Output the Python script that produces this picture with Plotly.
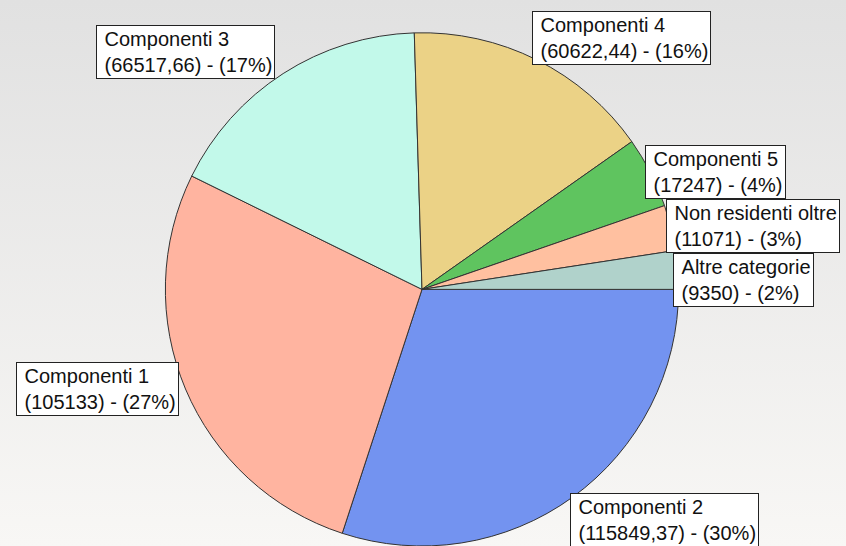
import plotly.graph_objects as go
import base64

labels = ["Componenti 2", "Componenti 1", "Componenti 3", "Componenti 4",
          "Componenti 5", "Non residenti oltre", "Altre categorie"]
values = [115849.37, 105133, 66517.66, 60622.44, 17247, 11071, 9350]
value_text = ["115849,37", "105133", "66517,66", "60622,44", "17247", "11071", "9350"]
colors = ["#7393f0", "#ffb4a0", "#c2f9ea", "#ebd286", "#5fc45f", "#ffc0a0", "#b0d2cb"]

# label box positions (paper coords, top-left corner)
label_pos = [(0.674, 0.097), (0.019, 0.337), (0.114, 0.954), (0.629, 0.980),
             (0.762, 0.734), (0.787, 0.635), (0.795, 0.537)]

total = sum(values)

fig = go.Figure()
fig.add_trace(go.Pie(
    labels=labels, values=values, sort=False, direction="clockwise", rotation=90,
    marker=dict(colors=colors, line=dict(color="#333333", width=1)),
    textinfo="none", hoverinfo="label+value+percent",
    domain=dict(x=[0.195, 0.8026], y=[0.0, 0.94]),
    showlegend=False,
))

annotations = []
for lab, vt, v, (px, py) in zip(labels, value_text, values, label_pos):
    pct = round(v / total * 100)
    annotations.append(dict(
        x=px, y=py, xref="paper", yref="paper", xanchor="left", yanchor="top",
        text=f"&nbsp;{lab}<br>&nbsp;({vt}) - ({pct}%)", showarrow=False, align="left",
        font=dict(family="Liberation Sans, Arial, sans-serif", size=20, color="#111111"),
        bgcolor="#ffffff", bordercolor="#222222", borderwidth=1, borderpad=2,
    ))

svg = ('<svg xmlns="http://www.w3.org/2000/svg" width="846" height="546">'
       '<defs><linearGradient id="g" x1="0" y1="0" x2="0" y2="1">'
       '<stop offset="0" stop-color="#e1e1e1"/><stop offset="1" stop-color="#f8f7f5"/>'
       '</linearGradient></defs><rect width="846" height="546" fill="url(#g)"/></svg>')
src = "data:image/svg+xml;base64," + base64.b64encode(svg.encode()).decode()

fig.update_layout(
    width=846, height=546,
    margin=dict(l=0, r=0, t=0, b=0),
    paper_bgcolor="#eeeeee", plot_bgcolor="rgba(0,0,0,0)",
    annotations=annotations,
    images=[dict(source=src, xref="paper", yref="paper", x=0, y=1, sizex=1, sizey=1,
                 xanchor="left", yanchor="top", sizing="stretch", layer="below")],
)

fig.write_html("out.html", config={"displayModeBar": False},
               post_script="document.body.style.margin='0';document.body.style.overflow='hidden';")
